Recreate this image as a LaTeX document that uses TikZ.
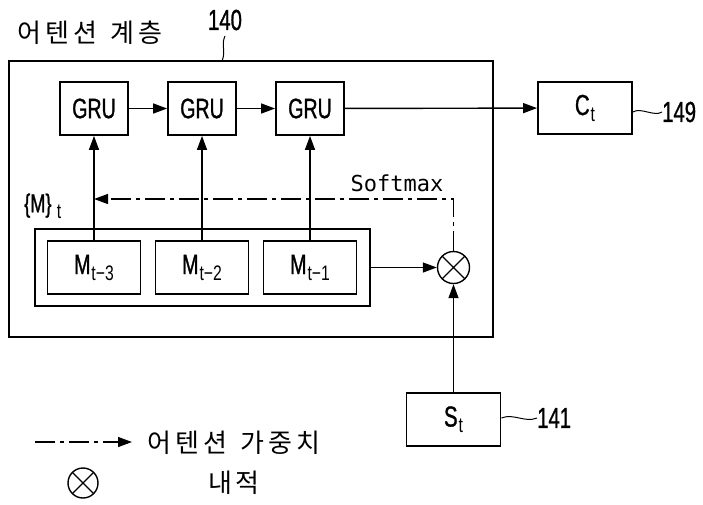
\documentclass[tikz,border=0pt]{standalone}
\usepackage{fontspec}
\setmainfont{Liberation Sans}[FakeStretch=0.7,FakeBold=1]
\newfontfamily\subfont{Liberation Sans}[FakeStretch=0.75]
\newfontfamily\kr{Noto Sans CJK KR}
\newfontfamily\mono{DejaVu Sans Mono}
\usetikzlibrary{arrows.meta}
\newcommand{\lowsub}[1]{\kern1pt\raisebox{-6pt}{\subfont\fontsize{21}{21}\selectfont #1}}
\newcommand{\ks}{\kern4pt }
\tikzset{
  box/.style={draw, line width=1.8pt, rectangle, inner sep=0pt, font=\fontsize{29}{29}\selectfont},
  grubox/.style={box, minimum width=68pt, minimum height=53pt, font=\fontsize{28}{28}\selectfont},
  mbox/.style={box, minimum width=93pt, minimum height=53pt, font=\fontsize{28}{28}\selectfont},
  conn/.style={line width=1.4pt},
  arr/.style={conn, -{Triangle[length=14pt,width=10pt]}},
  dd/.style={line width=1.2pt, dash pattern=on 20pt off 5pt on 4pt off 5pt},
  num/.style={font=\fontsize{29}{29}\selectfont, inner sep=0pt},
  krtext/.style={font=\kr\fontsize{26}{26}\selectfont, inner sep=0pt},
  otimes/.style={draw, circle, line width=1.4pt, inner sep=0pt, path picture={
      \draw[line width=1.2pt] (path picture bounding box.north west) -- (path picture bounding box.south east)
        (path picture bounding box.north east) -- (path picture bounding box.south west);}},
}
\begin{document}
\begin{tikzpicture}[x=1pt,y=-1pt]
\useasboundingbox (0,0) rectangle (703,504);
% outer layer box
\draw[line width=1.8pt] (9,61) rectangle (493,337);
\coordinate (outertop) at (222,61);
\node[krtext, anchor=west] (title) at (17,33) {어\ks 텐\ks 션\hspace{14pt}계\ks 층};
\node[num] (n140) at (225,20) {140};
\draw[line width=1pt] (225,36) coordinate (l140) .. controls (221,44) and (226,52) .. (outertop);

% GRUs
\node[grubox] (g1) at (94,108.5) {GRU};
\node[grubox] (g2) at (202,108.5) {GRU};
\node[grubox] (g3) at (310,108.5) {GRU};
\node[box, minimum width=94pt, minimum height=52pt] (ct) at (585,108) {C\lowsub{t}};
\draw[arr] (g1) -- (g2);
\draw[arr] (g2) -- (g3);
\draw[arr] (g3) -- (ct);
\node[num, anchor=west] (n149) at (662,112) {149};
\draw[line width=1pt] (ct.east |- n149.west) .. controls +(8,-5) and +(-8,5) .. (n149.west);

% memory group
\draw[line width=1.8pt] (35,229) rectangle (370,306);
\coordinate (mgeast) at (370,267.5);
\node[mbox] (m3) at (94,267.5) {M\lowsub{t−3}};
\node[mbox] (m2) at (202,267.5) {M\lowsub{t−2}};
\node[mbox] (m1) at (310,267.5) {M\lowsub{t−1}};
\draw[arr] (m3.north) -- (g1.south);
\draw[arr] (m2.north) -- (g2.south);
\draw[arr] (m1.north) -- (g3.south);

% dot product
\node[otimes, minimum size=32pt] (ox) at (453.5,267.5) {};
\draw[arr] (mgeast) -- (ox.west);

% softmax attention weights
\coordinate (mt) at (94,199);
\draw[dd, -{Triangle[length=14pt,width=10pt]}] (ox.north) |- (mt);
\node[font=\mono\fontsize{22}{22}\selectfont, inner sep=0pt] (softmax) at (397,183) {Softmax};
\node[font=\fontsize{26}{26}\selectfont, inner sep=0pt, anchor=west] (mlabel) at (24,206) {\{M\}\,\lowsub{t}};

% S_t
\node[box, minimum width=94pt, minimum height=53pt] (st) at (453.5,419.5) {S\lowsub{t}};
\draw[arr] (st.north) -- (ox.south);
\node[num, anchor=west] (n141) at (537,418) {141};
\draw[line width=1pt] (st.east |- n141.west) .. controls +(12,-5) and +(-12,5) .. (n141.west);

% legend
\coordinate (lg1) at (35,442);
\coordinate (lg2) at (132,442);
\draw[dd, -{Triangle[length=14pt,width=10pt]}] (lg1) -- (lg2);
\node[krtext, anchor=west] (lgt1) at (147,443) {어\ks 텐\ks 션\hspace{14pt}가\ks 중\ks 치};
\node[otimes, minimum size=30pt] (lgox) at (83,483) {};
\node[krtext] (lgt2) at (234,483) {내\ks 적};
\end{tikzpicture}
\end{document}
